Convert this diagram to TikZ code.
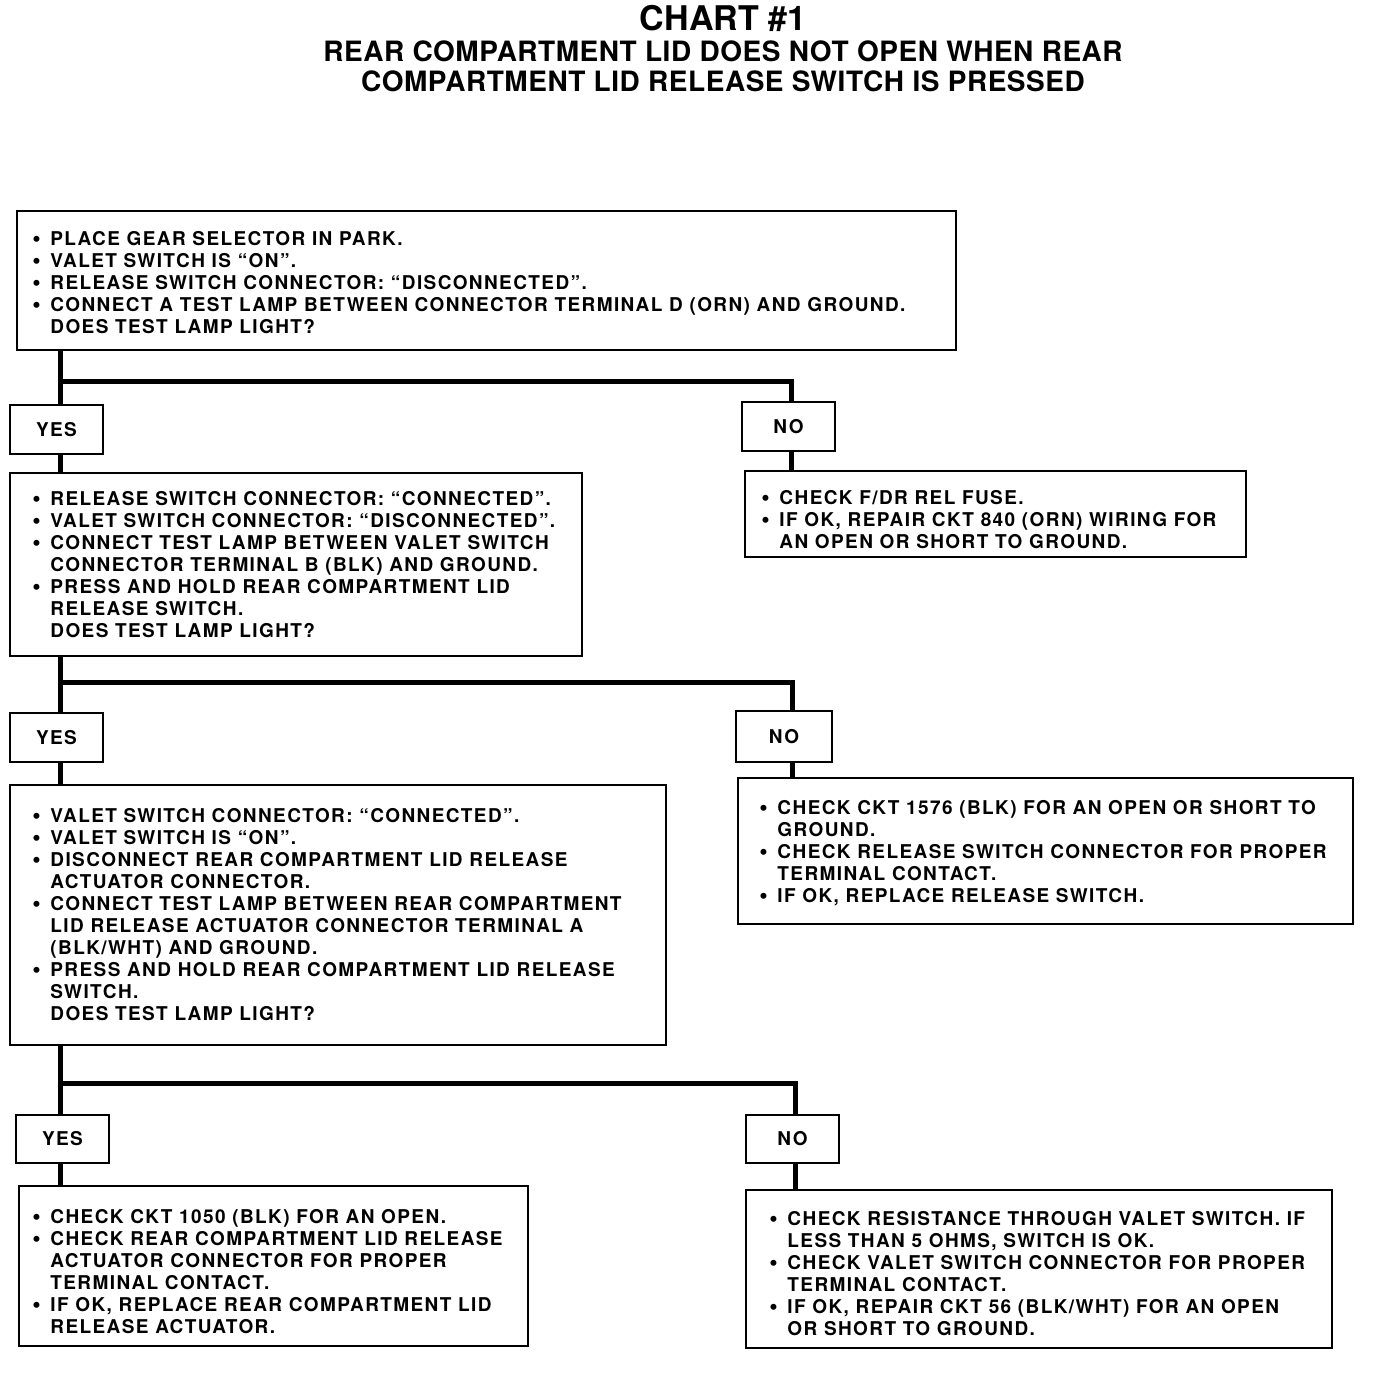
\documentclass[tikz,border=0pt]{standalone}
\usepackage{fontspec}
\setmainfont{TeX Gyre Heros}
\newfontfamily\bodyfont[LetterSpace=7.4]{TeX Gyre Heros}
\newfontfamily\subfont[LetterSpace=1.9]{TeX Gyre Heros}
\usetikzlibrary{fit}
\newcommand{\bu}{\makebox[9pt][l]{\raisebox{-0.4pt}{\fontsize{12}{11}\selectfont\textbullet}}}
\newcommand{\hg}{\makebox[9pt]{}}
\tikzset{
  x=0.5pt, y=-0.5pt,
  boxst/.style={draw, line width=1pt, inner sep=0pt},
  txt/.style={anchor=north west, inner sep=0pt, align=left, font=\bodyfont\fontsize{9.5}{11}\selectfont\bfseries},
  lbl/.style={draw, line width=1pt, inner sep=0pt},
  conn/.style={line width=2.5pt},
}
\begin{document}
\begin{tikzpicture}
\useasboundingbox (0,0) rectangle (1376,1380);
% titles
\node[font=\fontsize{17}{20}\selectfont\bfseries, inner sep=0pt] (title) at (723,18) {CHART \#1};
\node[font=\subfont\fontsize{14}{15}\selectfont\bfseries, inner sep=0pt, align=center] (sub) at (723,66) {REAR COMPARTMENT LID DOES NOT OPEN WHEN REAR\\[0pt]COMPARTMENT LID RELEASE SWITCH IS PRESSED};

% boxes
\node[boxst, fit={(17,211)(956,350)}] (b1) {};
\node[txt] (t1) at (32,231) {\bu PLACE GEAR SELECTOR IN PARK.\\
\bu VALET SWITCH IS “ON”.\\
\bu RELEASE SWITCH CONNECTOR: “DISCONNECTED”.\\
\bu CONNECT A TEST LAMP BETWEEN CONNECTOR TERMINAL D (ORN) AND GROUND.\\
\hg DOES TEST LAMP LIGHT?};

\node[lbl, fit={(10,405)(103,454)}] (y1) {};
\node[txt, anchor=center] at (y1.center) {YES};
\node[lbl, fit={(742,402)(835,451)}] (n1) {};
\node[txt, anchor=center] at (n1.center) {NO};

\node[boxst, fit={(10,473)(582,656)}] (b2) {};
\node[txt] (t2) at (32,491) {\bu RELEASE SWITCH CONNECTOR: “CONNECTED”.\\
\bu VALET SWITCH CONNECTOR: “DISCONNECTED”.\\
\bu CONNECT TEST LAMP BETWEEN VALET SWITCH\\
\hg CONNECTOR TERMINAL B (BLK) AND GROUND.\\
\bu PRESS AND HOLD REAR COMPARTMENT LID\\
\hg RELEASE SWITCH.\\
\hg DOES TEST LAMP LIGHT?};

\node[boxst, fit={(745,471)(1246,557)}] (c1) {};
\node[txt] (u1) at (761,490) {\bu CHECK F/DR REL FUSE.\\
\bu IF OK, REPAIR CKT 840 (ORN) WIRING FOR\\
\hg AN OPEN OR SHORT TO GROUND.};

\node[lbl, fit={(10,713)(103,762)}] (y2) {};
\node[txt, anchor=center] at (y2.center) {YES};
\node[lbl, fit={(736,711)(832,762)}] (n2) {};
\node[txt, anchor=center] at (n2.center) {NO};

\node[boxst, fit={(10,785)(666,1045)}] (b3) {};
\node[txt] (t3) at (32,808) {\bu VALET SWITCH CONNECTOR: “CONNECTED”.\\
\bu VALET SWITCH IS “ON”.\\
\bu DISCONNECT REAR COMPARTMENT LID RELEASE\\
\hg ACTUATOR CONNECTOR.\\
\bu CONNECT TEST LAMP BETWEEN REAR COMPARTMENT\\
\hg LID RELEASE ACTUATOR CONNECTOR TERMINAL A\\
\hg (BLK/WHT) AND GROUND.\\
\bu PRESS AND HOLD REAR COMPARTMENT LID RELEASE\\
\hg SWITCH.\\
\hg DOES TEST LAMP LIGHT?};

\node[boxst, fit={(738,778)(1353,924)}] (c2) {};
\node[txt] (u2) at (759,800) {\bu CHECK CKT 1576 (BLK) FOR AN OPEN OR SHORT TO\\
\hg GROUND.\\
\bu CHECK RELEASE SWITCH CONNECTOR FOR PROPER\\
\hg TERMINAL CONTACT.\\
\bu IF OK, REPLACE RELEASE SWITCH.};

\node[lbl, fit={(16,1115)(109,1163)}] (y3) {};
\node[txt, anchor=center] at (y3.center) {YES};
\node[lbl, fit={(746,1115)(839,1163)}] (n3) {};
\node[txt, anchor=center] at (n3.center) {NO};

\node[boxst, fit={(19,1186)(528,1346)}] (b4) {};
\node[txt] (t4) at (32,1209) {\bu CHECK CKT 1050 (BLK) FOR AN OPEN.\\
\bu CHECK REAR COMPARTMENT LID RELEASE\\
\hg ACTUATOR CONNECTOR FOR PROPER\\
\hg TERMINAL CONTACT.\\
\bu IF OK, REPLACE REAR COMPARTMENT LID\\
\hg RELEASE ACTUATOR.};

\node[boxst, fit={(746,1190)(1332,1348)}] (c4) {};
\node[txt] (u4) at (769,1211) {\bu CHECK RESISTANCE THROUGH VALET SWITCH. IF\\
\hg LESS THAN 5 OHMS, SWITCH IS OK.\\
\bu CHECK VALET SWITCH CONNECTOR FOR PROPER\\
\hg TERMINAL CONTACT.\\
\bu IF OK, REPAIR CKT 56 (BLK/WHT) FOR AN OPEN\\
\hg OR SHORT TO GROUND.};

% junction coordinates
\coordinate (j1) at (60,381);
\coordinate (j2) at (60,682);
\coordinate (j3) at (60,1083);
\coordinate (k1) at (791,381);
\coordinate (k2) at (792,682);
\coordinate (k3) at (795,1083);

% connectors
\draw[conn] (b1.south -| j1) -- (y1.north -| j1);
\draw[conn] (j1) -- (k1) -- (n1.north -| k1);
\draw[conn] (y1.south -| j1) -- (b2.north -| j1);
\draw[conn] (n1.south -| k1) -- (c1.north -| k1);

\draw[conn] (b2.south -| j2) -- (y2.north -| j2);
\draw[conn] (j2) -- (k2) -- (n2.north -| k2);
\draw[conn] (y2.south -| j2) -- (b3.north -| j2);
\draw[conn] (n2.south -| k2) -- (c2.north -| k2);

\draw[conn] (b3.south -| j3) -- (y3.north -| j3);
\draw[conn] (j3) -- (k3) -- (n3.north -| k3);
\draw[conn] (y3.south -| j3) -- (b4.north -| j3);
\draw[conn] (n3.south -| k3) -- (c4.north -| k3);
\end{tikzpicture}
\end{document}
